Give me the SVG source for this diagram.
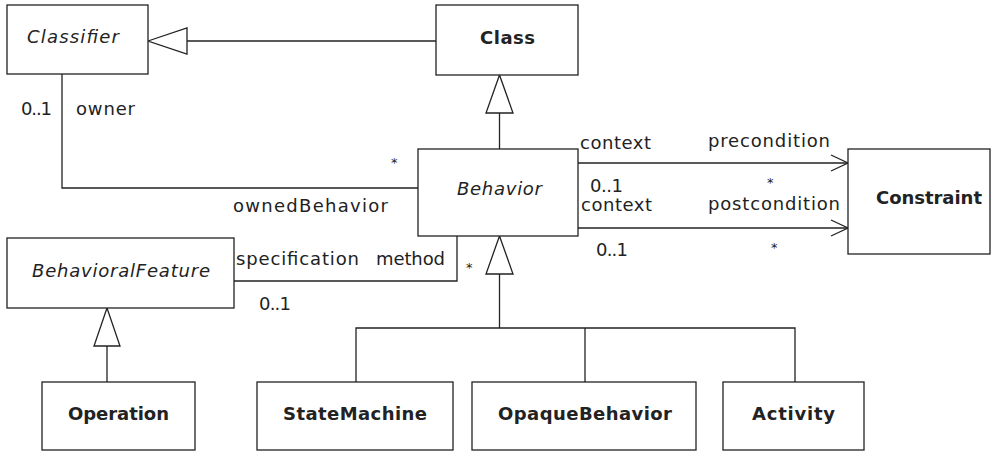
<svg xmlns="http://www.w3.org/2000/svg" width="997" height="452" viewBox="0 0 997 452">
<style>
rect.box{fill:#fff;stroke:#222;stroke-width:1.3}
text{font-family:"DejaVu Sans","Liberation Sans",sans-serif;font-size:18px;fill:#222}
.b{font-weight:bold}
.i{font-style:italic}
.m{text-anchor:middle}
.star{font-size:13px}
.ln{fill:none;stroke:#222;stroke-width:1.3}
.tri{fill:#fff;stroke:#222;stroke-width:1.3}
</style>
<rect width="997" height="452" fill="#fff"/>
<g id="connectors">
  <polyline class="ln" points="187,41 436,41"/>
  <polygon class="tri" points="148,41 187,28 187,54"/>
  <polyline class="ln" points="499.5,113 499.5,149"/>
  <polygon class="tri" points="499.5,75 486,113 513,113"/>
  <polyline class="ln" points="62,74 62,188 418,188"/>
  <polyline class="ln" points="234,281 457,281 457,236"/>
  <polyline class="ln" points="578,163 848,163"/>
  <polyline class="ln" points="831,155 848,163 831,171"/>
  <polyline class="ln" points="578,228 848,228"/>
  <polyline class="ln" points="831,220 848,228 831,236"/>
  <polyline class="ln" points="499.5,274 499.5,328"/>
  <polygon class="tri" points="499.5,236 486,274 513,274"/>
  <polyline class="ln" points="356,382 356,328 795,328 795,382"/>
  <polyline class="ln" points="585,328 585,382"/>
  <polyline class="ln" points="107,346 107,382"/>
  <polygon class="tri" points="107,308 94,346 120,346"/>
  <text x="21" y="115" textLength="31">0..1</text>
  <text x="76" y="115" textLength="59">owner</text>
  <text x="391" y="167" class="star">*</text>
  <text x="233" y="212" textLength="155">ownedBehavior</text>
  <text x="580" y="149" textLength="71">context</text>
  <text x="708" y="147" textLength="122">precondition</text>
  <text x="590" y="192" textLength="33">0..1</text>
  <text x="767" y="187" class="star">*</text>
  <text x="581" y="211" textLength="71">context</text>
  <text x="708" y="210" textLength="132">postcondition</text>
  <text x="596" y="256" textLength="32">0..1</text>
  <text x="771" y="252" class="star">*</text>
  <text x="236" y="265" textLength="123">specification</text>
  <text x="376" y="265" textLength="69">method</text>
  <text x="466" y="272" class="star">*</text>
  <text x="259" y="310" textLength="32">0..1</text>
</g>
<g id="Classifier">
  <rect class="box" x="7" y="5" width="141" height="69"/>
  <text x="73" y="43" class="i m" textLength="92">Classifier</text>
</g>
<g id="Class">
  <rect class="box" x="436" y="5" width="142" height="70"/>
  <text x="507.5" y="44" class="b m" textLength="55">Class</text>
</g>
<g id="Behavior">
  <rect class="box" x="418" y="149" width="160" height="87"/>
  <text x="499.5" y="195" class="i m" textLength="85">Behavior</text>
</g>
<g id="Constraint">
  <rect class="box" x="848" y="149" width="142" height="105"/>
  <text x="929" y="204" class="b m" textLength="106">Constraint</text>
</g>
<g id="BehavioralFeature">
  <rect class="box" x="7" y="238" width="227" height="70"/>
  <text x="121" y="277" class="i m" textLength="178">BehavioralFeature</text>
</g>
<g id="Operation">
  <rect class="box" x="42" y="382" width="153" height="68"/>
  <text x="118.5" y="420" class="b m" textLength="101">Operation</text>
</g>
<g id="StateMachine">
  <rect class="box" x="257" y="382" width="196" height="68"/>
  <text x="355" y="420" class="b m" textLength="144">StateMachine</text>
</g>
<g id="OpaqueBehavior">
  <rect class="box" x="472" y="382" width="224" height="68"/>
  <text x="585" y="420" class="b m" textLength="174">OpaqueBehavior</text>
</g>
<g id="Activity">
  <rect class="box" x="723" y="382" width="141" height="68"/>
  <text x="793.5" y="420" class="b m" textLength="83">Activity</text>
</g>
</svg>
